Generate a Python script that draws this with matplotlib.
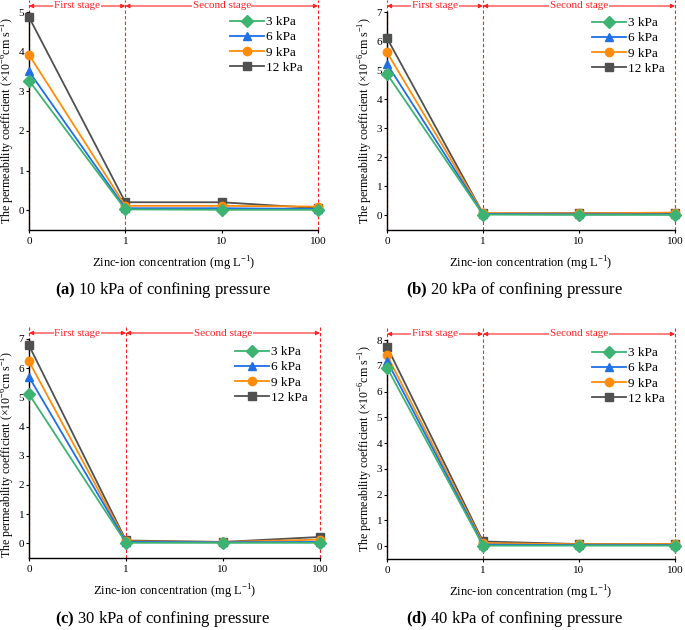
import matplotlib
matplotlib.use("Agg")
import matplotlib.pyplot as plt
from matplotlib.transforms import blended_transform_factory

plt.rcParams['font.family'] = ['Liberation Serif', 'DejaVu Serif']
plt.rcParams['mathtext.fontset'] = 'custom'
plt.rcParams['mathtext.rm'] = 'Liberation Serif'
plt.rcParams['mathtext.bf'] = 'Liberation Serif:bold'

conc_labels = ['0', '1', '10', '100']
series_names = ['3 kPa', '6 kPa', '9 kPa', '12 kPa']
colors = ['#3cb371', '#1f6fe6', '#ff8c0a', '#505050']
markers = ['D', '^', 'o', 's']

panel_a = [[3.27, 0.02, 0.01, 0.01],
           [3.50, 0.05, 0.05, 0.03],
           [3.92, 0.11, 0.11, 0.09],
           [4.87, 0.20, 0.20, 0.05]]
panel_b = [[4.87, 0.03, 0.02, 0.02],
           [5.21, 0.05, 0.04, 0.04],
           [5.61, 0.08, 0.07, 0.10],
           [6.10, 0.07, 0.08, 0.08]]
panel_c = [[5.11, 0.02, 0.02, 0.02],
           [5.70, 0.05, 0.04, 0.05],
           [6.23, 0.07, 0.05, 0.13],
           [6.78, 0.10, 0.05, 0.22]]
panel_d = [[6.93, 0.02, 0.02, 0.02],
           [7.19, 0.06, 0.04, 0.04],
           [7.41, 0.12, 0.07, 0.08],
           [7.74, 0.18, 0.08, 0.08]]

captions = [('(a)', '10 kPa of confining pressure'),
            ('(b)', '20 kPa of confining pressure'),
            ('(c)', '30 kPa of confining pressure'),
            ('(d)', '40 kPa of confining pressure')]
ymax = [5, 7, 7, 8]
panels = [panel_a, panel_b, panel_c, panel_d]

W, H = 685, 630
fig = plt.figure(figsize=(W / 100, H / 100), dpi=100)

# pixel boxes: left, right, top, bottom
boxes = [(29, 318, 12, 230), (387, 675, 12, 230),
         (29, 320, 339, 558), (387, 675, 340, 559)]
leg_pos = [(230, 16), (592, 17), (235, 346), (592, 347)]
cap_pos = [(163, 290), (515, 290), (163, 619), (515, 619)]
ylab_pos = [(17.5, 121), (375, 121), (17.5, 455), (375, 449)]

red = '#ff2020'
x = list(range(len(conc_labels)))

for i, (vals, box) in enumerate(zip(panels, boxes)):
    l, r, t, b = box
    ax = fig.add_axes([l / W, 1 - b / H, (r - l) / W, (b - t) / H])
    for j in reversed(range(4)):
        ax.plot(x, vals[j], color=colors[j], marker=markers[j], markersize=6,
                lw=1.3, label=series_names[j], clip_on=False, zorder=5 + (4 - j))
    ax.set_xlim(0, 3)
    ax.set_ylim(-0.5, ymax[i])
    ax.set_yticks(range(0, ymax[i] + 1))
    ax.set_xticks(x)
    ax.set_xticklabels(conc_labels)
    ax.spines['top'].set_visible(False)
    ax.spines['right'].set_visible(False)
    ax.spines['left'].set_linewidth(1.0)
    ax.spines['bottom'].set_linewidth(1.0)
    ax.tick_params(labelsize=8, direction='out', length=2, width=0.8, pad=3)
    ax.tick_params(axis='y', pad=1.5)
    ax.set_xlabel('Zinc-ion concentration (mg L$^{-1}$)', fontsize=9, labelpad=6)
    ax.set_ylabel('The permeability coefficient (×10$^{-6}$cm s$^{-1}$)', fontsize=8.6)
    yx, yy = ylab_pos[i]
    ax.yaxis.set_label_coords((yx - l) / (r - l), (b - yy) / (b - t))

    hpx = b - t
    trans = blended_transform_factory(ax.transData, ax.transAxes)
    arrow_y = 1 + 6 / hpx
    top_y = 1 + 12 / hpx
    for xv in [0, 1, 3]:
        ax.plot([xv, xv], [0, top_y], transform=trans, color=red, lw=0.8,
                ls=(0, (3, 2)), clip_on=False, zorder=2)
    for (x0, x1, txt, xc) in [(0, 1, 'First stage', 0.5), (1, 3, 'Second stage', 2.0)]:
        ax.annotate('', xy=(x0, arrow_y), xytext=(x1, arrow_y), xycoords=trans,
                    textcoords=trans,
                    arrowprops=dict(arrowstyle='<|-|>', color=red, lw=0.8,
                                    mutation_scale=6, shrinkA=0, shrinkB=0))
        ax.text(xc, arrow_y, txt, transform=trans, color=red, fontsize=8,
                ha='center', va='center', zorder=10,
                bbox=dict(facecolor='white', edgecolor='none', pad=0.5))

    handles, labels = ax.get_legend_handles_labels()
    lx, ly = leg_pos[i]
    ax.legend(handles[::-1], labels[::-1], loc='upper left',
              bbox_to_anchor=((lx - l) / (r - l), 1 - (ly - t) / hpx),
              frameon=False, fontsize=9.5, handlelength=2.6, handletextpad=0.1,
              labelspacing=0.22, borderpad=0, borderaxespad=0)

    cx, cy = cap_pos[i]
    lab, rest = captions[i]
    fig.text(cx / W, 1 - cy / H, r'$\mathbf{' + lab + '}$ ' + rest,
             ha='center', va='center', fontsize=12)

fig.savefig('out.png', dpi=100)
